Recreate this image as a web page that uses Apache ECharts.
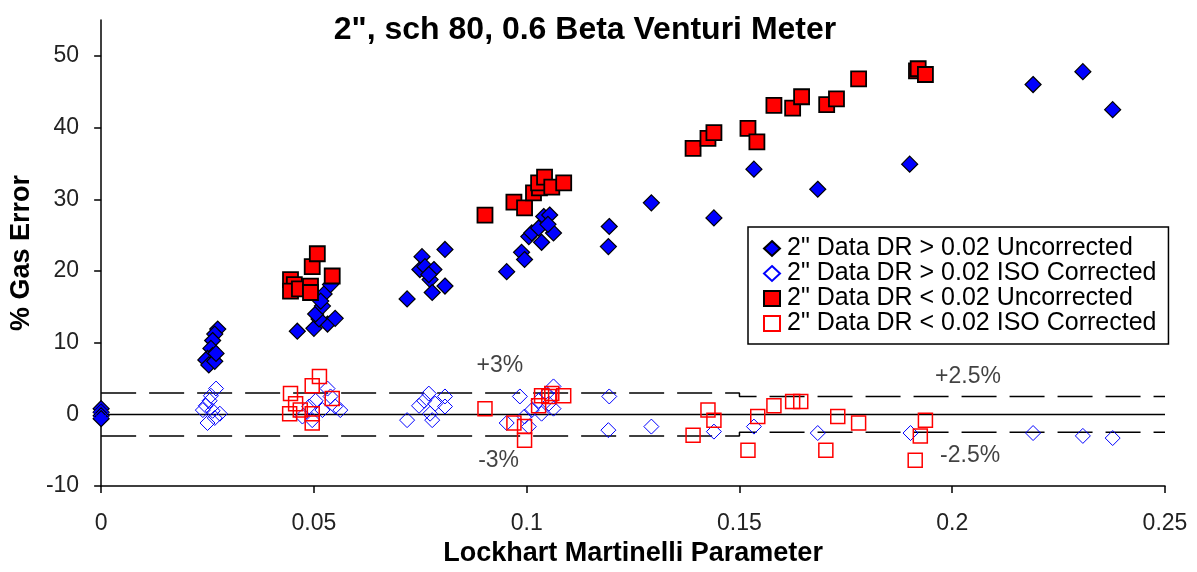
<!DOCTYPE html>
<html><head><meta charset="utf-8">
<script src="https://cdn.jsdelivr.net/npm/echarts@6/dist/echarts.min.js"></script>
<style>html,body{margin:0;padding:0;background:#fff}#c{width:1197px;height:572px}</style>
</head><body><div id="c"></div>
<script>
// ---- data ----
const titleText = '2", sch 80, 0.6 Beta Venturi Meter';
const xName = 'Lockhart Martinelli Parameter';
const yName = '% Gas Error';
const seriesNames = [
  '2" Data DR > 0.02 Uncorrected',
  '2" Data DR > 0.02 ISO Corrected',
  '2" Data DR < 0.02 Uncorrected',
  '2" Data DR < 0.02 ISO Corrected'
];
const xTicks = [0, 0.05, 0.1, 0.15, 0.2, 0.25];
const yTicks = [-10, 0, 10, 20, 30, 40, 50];

const blueUncX = [0,0,0,0,
  0.0274,0.0267,0.0262,0.0258,0.0262,0.025,0.0246,0.0253,0.0267,0.027,
  0.0461,0.05,0.0532,0.055,0.0512,0.0504,0.052,0.0524,0.0539,0.0516,
  0.0719,0.0749,0.0754,0.0761,0.0782,0.0773,0.0778,0.0808,0.0808,0.077,
  0.0953,0.0988,0.0995,0.1005,0.1012,0.1035,0.1063,0.1028,0.104,0.1054,0.105,
  0.1192,0.1194,0.1293,0.144,0.1534,0.1684,0.19,0.219,0.2307,0.2377];
const blueUncY = [0.8,0.3,-0.2,-0.6,
  11.9,11.2,10.3,9.2,8.2,7.8,7.6,6.9,7.4,8.5,
  11.6,12.0,12.6,13.4,13.3,14.0,15.1,16.8,18.1,15.8,
  16.1,20.2,22.0,20.6,20.2,18.8,17.0,17.9,23.0,19.5,
  19.9,22.6,21.6,24.8,25.3,24.0,25.3,26.0,27.6,27.8,26.5,
  23.4,26.2,29.5,27.4,34.2,31.4,34.9,46.0,47.8,42.5];

const blueIsoX = [0,0,
  0.027,0.0258,0.0255,0.0246,0.0239,0.0279,0.0267,0.025,0.0262,
  0.0532,0.0539,0.0504,0.055,0.0489,0.052,0.0562,0.0473,0.0496,
  0.0719,0.0747,0.0759,0.077,0.0773,0.0785,0.0778,0.0808,0.0808,
  0.0953,0.0984,0.0995,0.1005,0.1012,0.1035,0.1028,0.1047,0.1052,0.1063,0.1063,
  0.1194,0.1192,0.1293,0.144,0.1534,0.1684,0.1902,0.219,0.2307,0.2377];
const blueIsoY = [0.3,-0.3,
  3.6,2.6,1.9,1.2,0.6,0.1,-0.5,-1.2,0.5,
  3.6,2.5,1.9,1.1,1.1,0.6,0.6,-0.3,-0.8,
  -0.8,1.2,1.9,2.9,0.1,1.5,-0.8,2.5,1.1,
  -1.2,2.5,-0.3,-1.7,0.6,0.1,1.9,2.9,1.5,0.8,3.9,
  2.5,-2.2,-1.7,-2.4,-1.7,-2.6,-2.6,-2.6,-3.0,-3.3];

const redUncX = [0.0445,0.0454,0.0445,0.0466,0.0492,0.0492,0.0496,0.0508,0.0543,
  0.0902,0.097,0.0995,0.1016,0.103,0.1028,0.1042,0.1059,0.1087,
  0.1391,0.1426,0.144,0.152,0.1541,0.1581,0.1625,0.1646,0.1705,0.1728,0.178,0.1916,0.192,0.1937];
const redUncY = [18.8,18.1,17.2,17.5,17.9,17.0,20.6,22.4,19.3,
  27.8,29.6,28.8,30.9,31.6,32.3,33.1,31.7,32.3,
  37.1,38.5,39.3,39.9,38.0,43.1,42.7,44.3,43.2,44.0,46.8,47.9,48.2,47.4];

const redIsoX = [0.0445,0.0457,0.0443,0.0468,0.0496,0.0513,0.0496,0.0496,0.0543,
  0.0902,0.097,0.0995,0.0995,0.1028,0.1035,0.1052,0.1059,0.1087,
  0.1391,0.1426,0.144,0.152,0.1543,0.1581,0.1625,0.1644,0.1703,0.1731,0.178,0.1913,0.1925,0.1937];
const redIsoY = [2.9,1.5,0.1,0.6,4.0,5.3,0.1,-1.2,2.2,
  0.8,-1.2,-1.7,-3.6,1.2,2.6,2.5,2.9,2.6,
  -2.9,0.6,-0.8,-5.0,-0.3,1.2,1.8,1.8,-5.0,-0.3,-1.2,-6.4,-3.0,-0.8];

const upperLimX = [0, 0.15, 0.15, 0.25];
const upperLimY = [3, 3, 2.5, 2.5];
const lowerLimX = [0, 0.15, 0.15, 0.25];
const lowerLimY = [-3, -3, -2.5, -2.5];
const zeroX = [0, 0.25];
const zeroY = [0, 0];

const annoText = ['+3%', '-3%', '+2.5%', '-2.5%'];
const annoX = [0.0937, 0.0934, 0.2037, 0.2042];
const annoY = [6.8, -6.5, 5.3, -5.8];

// ---- build ----
const zip = (xs, ys) => xs.map((x, i) => [x, ys[i]]);
const FONT = '"Liberation Sans", Arial, sans-serif';
const chart = echarts.init(document.getElementById('c'), null, {renderer: 'canvas'});

const option = {
  animation: false,
  backgroundColor: '#fff',
  title: {
    text: titleText, left: 580, top: 9, textAlign: 'center',
    textStyle: {fontFamily: FONT, fontSize: 32, fontWeight: 'bold', color: '#000'}
  },
  grid: {left: 98, right: 32, top: 20, bottom: 84, containLabel: false},
  legend: {
    orient: 'vertical', left: 748, top: 227,
    backgroundColor: '#fff',
    borderColor: '#000', borderWidth: 1.5, padding: [9, 12, 8, 15],
    itemGap: 0, itemWidth: 16, itemHeight: 15, selectedMode: false,
    textStyle: {fontFamily: FONT, fontSize: 25, color: '#000', lineHeight: 23, padding: [0, 0, 0, 2]},
    data: seriesNames
  },
  xAxis: {
    type: 'value', min: 0, max: 0.25, interval: 0.05,
    name: xName, nameLocation: 'middle', nameGap: 53,
    nameTextStyle: {fontFamily: FONT, fontSize: 27, fontWeight: 'bold', color: '#000'},
    axisLine: {onZero: false, lineStyle: {color: '#000', width: 1.5}},
    axisTick: {show: true, length: 7, lineStyle: {color: '#000', width: 1.5}, customValues: xTicks},
    axisLabel: {margin: 26, fontFamily: FONT, fontSize: 23, color: '#222', customValues: xTicks,
      formatter: v => String(Math.round(v * 100) / 100)},
    splitLine: {show: false}
  },
  yAxis: {
    type: 'value', min: -10, max: 55, interval: 10,
    name: yName, nameLocation: 'middle', nameGap: 66, nameRotate: 90,
    nameTextStyle: {fontFamily: FONT, fontSize: 27, fontWeight: 'bold', color: '#000'},
    axisLine: {show: true, onZero: false, lineStyle: {color: '#000', width: 1.5}},
    axisTick: {show: true, length: 7, lineStyle: {color: '#000', width: 1.5}, customValues: yTicks},
    axisLabel: {margin: 22, fontFamily: FONT, fontSize: 23, color: '#222', customValues: yTicks},
    splitLine: {show: false}
  },
  series: [
    {type: 'line', data: zip(zeroX, zeroY), symbol: 'none', silent: true, z: 1,
      lineStyle: {color: '#000', width: 1.5}},
    {type: 'line', data: zip(upperLimX, upperLimY), symbol: 'none', silent: true, z: 1,
      lineStyle: {color: '#000', width: 1.5, type: [35, 13]}},
    {type: 'line', data: zip(lowerLimX, lowerLimY), symbol: 'none', silent: true, z: 1,
      lineStyle: {color: '#000', width: 1.5, type: [35, 13]}},
    {name: seriesNames[0], type: 'scatter', data: zip(blueUncX, blueUncY), symbol: 'diamond', symbolSize: 16, z: 3,
      itemStyle: {color: '#0000ff', borderColor: '#000', borderWidth: 1.2, opacity: 1}},
    {name: seriesNames[1], type: 'scatter', data: zip(blueIsoX, blueIsoY), symbol: 'diamond', symbolSize: 15, z: 3,
      itemStyle: {color: 'rgba(255,255,255,0)', borderColor: '#0000ff', borderWidth: 1, opacity: 1}},
    {name: seriesNames[2], type: 'scatter', data: zip(redUncX, redUncY), symbol: 'rect', symbolSize: 15, z: 3,
      itemStyle: {color: '#ff0000', borderColor: '#000', borderWidth: 1.8, opacity: 1}},
    {name: seriesNames[3], type: 'scatter', data: zip(redIsoX, redIsoY), symbol: 'rect', symbolSize: 14, z: 3,
      itemStyle: {color: 'rgba(255,255,255,0)', borderColor: '#ff0000', borderWidth: 1.5, opacity: 1}},
    {type: 'scatter', data: annoX.map((x, i) => ({value: [x, annoY[i]], name: annoText[i]})),
      symbolSize: 0, silent: true, z: 4,
      label: {show: true, position: 'inside', formatter: p => p.name,
        fontFamily: FONT, fontSize: 23, color: '#111'}}
  ]
};
chart.setOption(option);
</script></body></html>
